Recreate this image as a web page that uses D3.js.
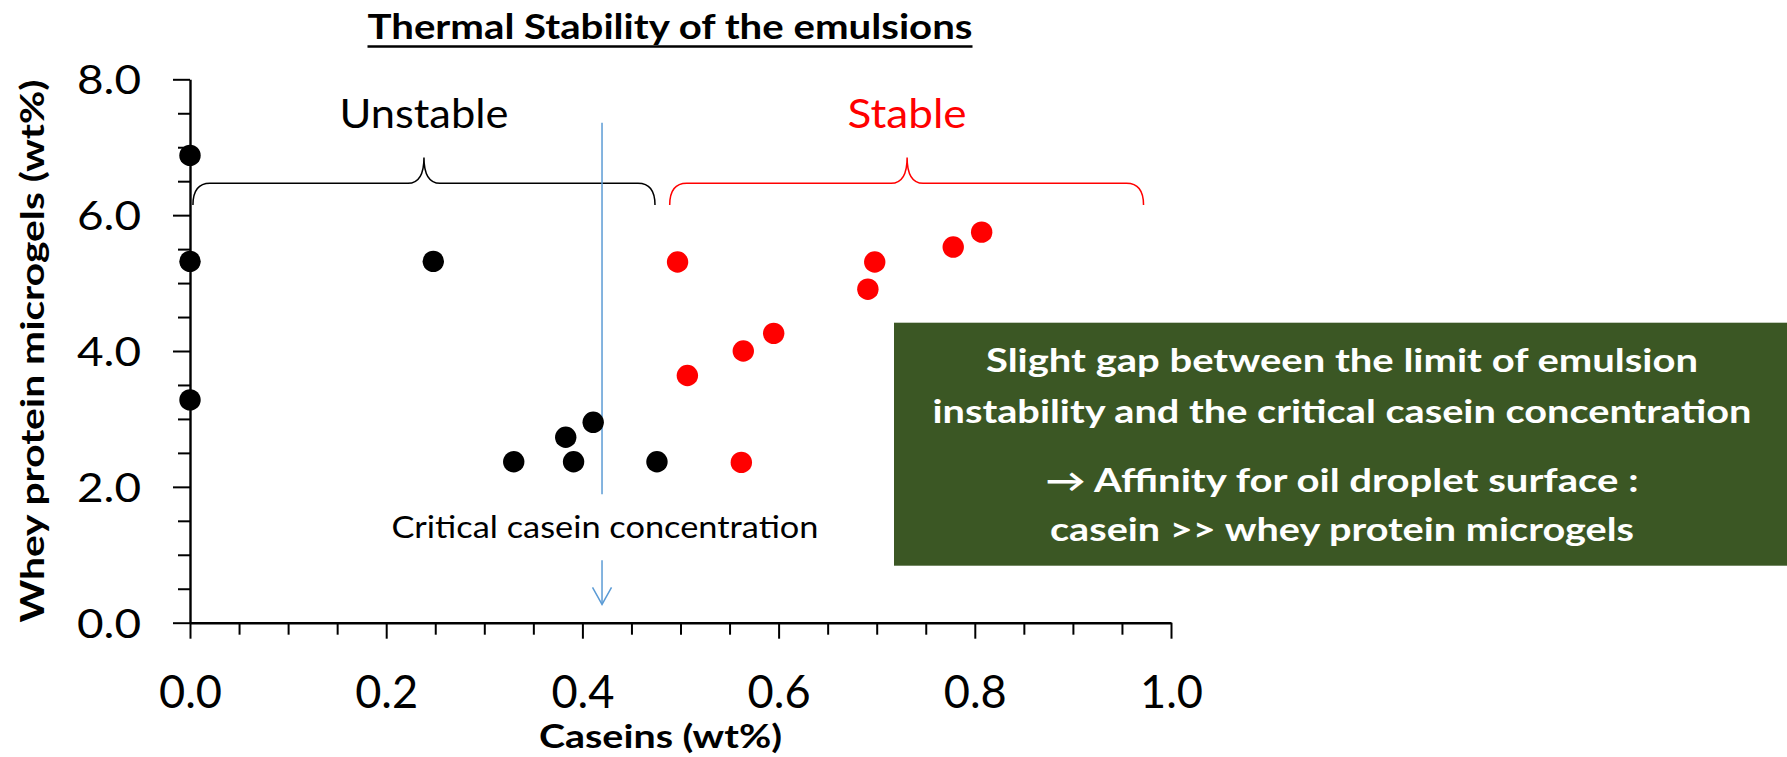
<!DOCTYPE html>
<html>
<head>
<meta charset="utf-8">
<script src="https://cdn.jsdelivr.net/npm/d3@7/dist/d3.min.js"></script>
<style>
  html, body { margin: 0; padding: 0; background: #fff; }
  svg { display: block; }
  text { font-family: Lato, "Open Sans", sans-serif; }
</style>
</head>
<body>
<svg id="chart" width="1787" height="757"></svg>
<script>
// ---- data ----
const unstableX = [0, 0, 0, 0.248, 0.330, 0.383, 0.391, 0.411, 0.476];
const unstableY = [6.88, 5.32, 3.28, 5.32, 2.37, 2.73, 2.37, 2.95, 2.37];
const stableX = [0.497, 0.507, 0.564, 0.595, 0.562, 0.691, 0.698, 0.778, 0.807];
const stableY = [5.31, 3.64, 4.00, 4.26, 2.36, 4.91, 5.31, 5.53, 5.75];
const xTicks = [0, 0.2, 0.4, 0.6, 0.8, 1.0];
const yTicks = [0, 2, 4, 6, 8];
const criticalCasein = 0.42;
const unstableRange = [0.003, 0.474];
const stableRange = [0.489, 0.972];
const title = "Thermal Stability of the emulsions";
const xTitle = "Caseins (wt%)";
const yTitle = "Whey protein microgels (wt%)";
const boxLines = [
  "Slight gap between the limit of emulsion",
  "instability and the critical casein concentration",
  "\u2192 Affinity for oil droplet surface :",
  "casein >> whey protein microgels"
];

// ---- layout ----
const svg = d3.select("#chart");
const x = d3.scaleLinear().domain([0, 1]).range([190, 1171]);
const y = d3.scaleLinear().domain([0, 8]).range([622.7, 79.3]);

// axes: minor ticks
const xMinor = d3.range(0, 1.0001, 0.05).map(v => +v.toFixed(2)).filter(v => Math.round(v * 100) % 20 !== 0);
const yMinor = d3.range(0, 8.0001, 0.5).filter(v => v % 2 !== 0);

const gx = svg.append("g").attr("transform", `translate(0,${y(0)})`);
gx.call(d3.axisBottom(x).tickValues(xMinor).tickSize(12).tickSizeOuter(0).tickFormat(""));
gx.call(g => g.select(".domain").remove());
const gxMaj = svg.append("g").attr("transform", `translate(0,${y(0)})`)
  .call(d3.axisBottom(x).tickValues(xTicks).tickSize(16).tickSizeOuter(0).tickFormat(d3.format(".1f")));
gxMaj.selectAll("text").attr("y", 85.3).attr("dy", 0)
  .attr("font-size", 46).attr("fill", "#000")
  .attr("textLength", 63).attr("lengthAdjust", "spacingAndGlyphs");

const gy = svg.append("g").attr("transform", `translate(${x(0)},0)`);
gy.call(d3.axisLeft(y).tickValues(yMinor).tickSize(12).tickSizeOuter(0).tickFormat(""));
gy.call(g => g.select(".domain").remove());
const gyMaj = svg.append("g").attr("transform", `translate(${x(0)},0)`)
  .call(d3.axisLeft(y).tickValues(yTicks).tickSize(17).tickSizeOuter(0).tickFormat(d3.format(".1f")));
gyMaj.selectAll("text").attr("x", -49).attr("dy", "0.36em")
  .attr("font-size", 40).attr("fill", "#000")
  .attr("textLength", 64).attr("lengthAdjust", "spacingAndGlyphs");

svg.selectAll(".domain, .tick line").attr("stroke", "#000").attr("stroke-width", 2);
svg.selectAll(".domain").attr("stroke-width", 2.4);

// title
const tt = svg.append("text").attr("x", 670).attr("y", 39.3).attr("text-anchor", "middle")
  .attr("font-size", 33.5).attr("font-weight", "bold").attr("fill", "#000")
  .attr("textLength", 605).attr("lengthAdjust", "spacingAndGlyphs").text(title);
svg.append("line").attr("x1", 670 - 302.5).attr("x2", 670 + 302.5)
  .attr("y1", 46.5).attr("y2", 46.5).attr("stroke", "#000").attr("stroke-width", 2.5);

// axis titles
svg.append("text").attr("x", 660.5).attr("y", 748).attr("text-anchor", "middle")
  .attr("font-size", 32).attr("font-weight", "bold").attr("fill", "#000")
  .attr("textLength", 243).attr("lengthAdjust", "spacingAndGlyphs").text(xTitle);
svg.append("text").attr("transform", `translate(44,${(y(0) + y(8)) / 2}) rotate(-90)`)
  .attr("text-anchor", "middle")
  .attr("font-size", 33).attr("font-weight", "bold").attr("fill", "#000")
  .attr("textLength", 543).attr("lengthAdjust", "spacingAndGlyphs").text(yTitle);

// braces
function bracePath(x0, x1, tip) {
  const yEnd = y(6.15), yMid = y(6.47), yTip = y(6.85);
  const r = 17, rt = 16;
  return `M${x0},${yEnd} Q${x0},${yMid} ${x0 + r},${yMid} L${tip - rt},${yMid} Q${tip},${yMid} ${tip},${yTip}` +
         ` Q${tip},${yMid} ${tip + rt},${yMid} L${x1 - r},${yMid} Q${x1},${yMid} ${x1},${yEnd}`;
}
const braces = [
  {range: unstableRange, tip: 0.2385, color: "#000", label: "Unstable"},
  {range: stableRange, tip: 0.731, color: "#FF0000", label: "Stable"}
];
braces.forEach(b => {
  svg.append("path").attr("d", bracePath(x(b.range[0]), x(b.range[1]), x(b.tip)))
    .attr("fill", "none").attr("stroke", b.color).attr("stroke-width", 1.5);
  svg.append("text").attr("x", x(b.tip)).attr("y", y(6.85) - 29.5).attr("text-anchor", "middle")
    .attr("font-size", 40.5).attr("fill", b.color)
    .attr("textLength", b.label === "Unstable" ? 169 : 119).attr("lengthAdjust", "spacingAndGlyphs")
    .text(b.label);
});

// critical casein line + arrow
const blue = "#5B9BD5";
svg.append("line").attr("x1", x(criticalCasein)).attr("x2", x(criticalCasein))
  .attr("y1", y(7.36)).attr("y2", y(1.89)).attr("stroke", blue).attr("stroke-width", 1.5);
svg.append("text").attr("x", x(criticalCasein) + 3).attr("y", y(1.25)).attr("text-anchor", "middle")
  .attr("font-size", 31).attr("fill", "#000")
  .attr("textLength", 427).attr("lengthAdjust", "spacingAndGlyphs").text("Critical casein concentration");
const ax = x(criticalCasein), aTop = y(0.92), aBot = y(0.27);
svg.append("line").attr("x1", ax).attr("x2", ax).attr("y1", aTop).attr("y2", aBot)
  .attr("stroke", blue).attr("stroke-width", 1.5);
svg.append("path").attr("d", `M${ax - 9.5},${aBot - 17} L${ax},${aBot} L${ax + 9.5},${aBot - 17}`)
  .attr("fill", "none").attr("stroke", blue).attr("stroke-width", 1.5);

// points
const unstable = unstableX.map((v, i) => ({x: v, y: unstableY[i]}));
const stable = stableX.map((v, i) => ({x: v, y: stableY[i]}));
svg.append("g").selectAll("circle").data(unstable).join("circle")
  .attr("cx", d => x(d.x)).attr("cy", d => y(d.y)).attr("r", 10.7).attr("fill", "#000");
svg.append("g").selectAll("circle").data(stable).join("circle")
  .attr("cx", d => x(d.x)).attr("cy", d => y(d.y)).attr("r", 10.7).attr("fill", "#FF0000");

// green box
svg.append("rect").attr("x", 894).attr("y", 322.7).attr("width", 1787 - 894).attr("height", 565.7 - 322.7)
  .attr("fill", "#3B5724");
const baselines = [371.7, 422.7, 491.7, 540.7];
const widths = [712, 819, 593, 584];
boxLines.forEach((t, i) => {
  svg.append("text").attr("x", 1342).attr("y", baselines[i]).attr("text-anchor", "middle")
    .attr("font-size", 31.5).attr("font-weight", "bold").attr("fill", "#fff")
    .attr("textLength", widths[i]).attr("lengthAdjust", "spacingAndGlyphs").text(t);
});
</script>
</body>
</html>
